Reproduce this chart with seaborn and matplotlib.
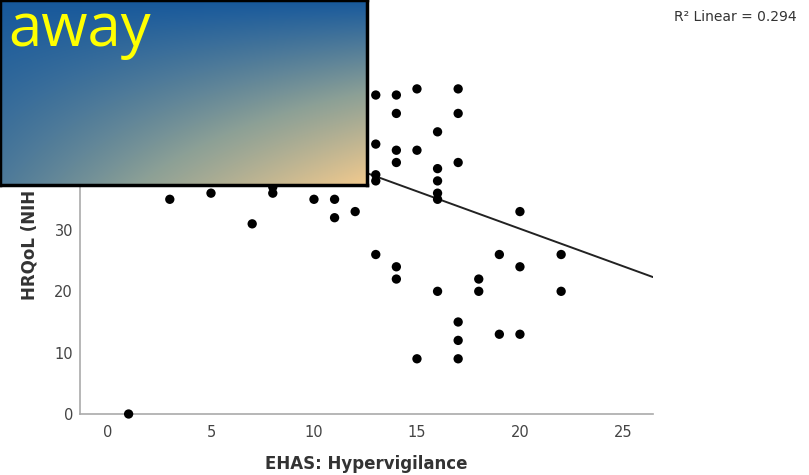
import numpy as np
import pandas as pd
import seaborn as sns
import matplotlib.pyplot as plt

# visible points (x = EHAS hypervigilance, y = HRQoL)
hyper = [1, 3, 5, 7, 8, 8, 10, 11, 11, 12,
         13, 13, 13, 13, 13,
         14, 14, 14, 14, 14, 14,
         15, 15, 15,
         16, 16, 16, 16, 16, 16,
         17, 17, 17, 17, 17, 17,
         18, 18, 19, 19, 20, 20, 20, 22, 22]
hrqol = [0, 35, 36, 31, 36, 37, 35, 35, 32, 33,
         26, 38, 39, 44, 52,
         52, 49, 43, 41, 24, 22,
         53, 43, 9,
         46, 40, 38, 36, 35, 20,
         53, 49, 41, 15, 12, 9,
         22, 20, 26, 13, 33, 24, 13, 26, 20]

# fit line as drawn in the reference (part of data is hidden by the overlay)
fit_intercept = 54.6
fit_slope = -1.22
r2_linear = 0.294

x_ticks = [0, 5, 10, 15, 20, 25]
y_ticks = [0, 10, 20, 30]

df = pd.DataFrame({'hyper': hyper, 'hrqol': hrqol})

sns.set_style('white')
plt.rcParams['font.family'] = ['DejaVu Sans']

fig = plt.figure(figsize=(8.09, 4.75), dpi=100)
ax = fig.add_axes([80 / 809, 61 / 475, 573 / 809, 384 / 475])

xlim = (-1.36, 26.46)
ylim = (0, 62.6)

sns.scatterplot(data=df, x='hyper', y='hrqol', ax=ax, color='black',
                s=45, edgecolor='none', clip_on=False, zorder=3)

line_x = np.array(xlim)
line_df = pd.DataFrame({'x': line_x, 'y': fit_intercept + fit_slope * line_x})
sns.lineplot(data=line_df, x='x', y='y', ax=ax, color='#222222', linewidth=1.4)

ax.set_xlim(xlim)
ax.set_ylim(ylim)
ax.set_xticks(x_ticks)
ax.set_yticks(y_ticks)
ax.tick_params(length=0, labelsize=10.5, labelcolor='#444444')
ax.tick_params(axis='x', pad=8)
ax.tick_params(axis='y', pad=5)
for side in ['top', 'right']:
    ax.spines[side].set_visible(False)
for side in ['left', 'bottom']:
    ax.spines[side].set_color('#aaaaaa')
    ax.spines[side].set_linewidth(1.2)

ax.set_xlabel('EHAS: Hypervigilance', fontsize=12, fontweight='bold',
              color='#333333', labelpad=11)
ax.set_ylabel('HRQoL (NIH Toolbox)', fontsize=12, fontweight='bold',
              color='#333333')
ax.yaxis.label.set_horizontalalignment('left')
ax.yaxis.set_label_coords(-0.072, 0.297)

fig.text(797 / 809, 1 - 17 / 475, f'R\u00b2 Linear = {r2_linear}', ha='right',
         va='center', fontsize=10, color='#333333')

# gradient overlay box in the top left corner
box = fig.add_axes([0, 290 / 475, 367 / 809, 185 / 475])
h, w = 185, 367
v = np.linspace(0, 1, h)[:, None]
u = np.linspace(0, 1, w)[None, :]
s = np.clip(v * (0.3 + 0.7 * u) ** 1.2, 0, 1)
blue = np.array([22, 88, 156]) / 255
grey = np.array([140, 160, 150]) / 255
peach = np.array([242, 202, 142]) / 255
s3 = s[..., None]
img = np.where(s3 < 0.5,
               blue + (grey - blue) * (s3 / 0.5),
               grey + (peach - grey) * ((s3 - 0.5) / 0.5))
box.imshow(img, aspect='auto', extent=(0, 1, 0, 1))
box.set_xticks([])
box.set_yticks([])
for side in box.spines.values():
    side.set_color('black')
    side.set_linewidth(2.5)
box.text(8 / 367, 1 - 46 / 185, 'away', transform=box.transAxes,
         fontsize=43, color='#ffff00', family='Open Sans',
         ha='left', va='baseline')

fig.savefig('out.png', dpi=100)
